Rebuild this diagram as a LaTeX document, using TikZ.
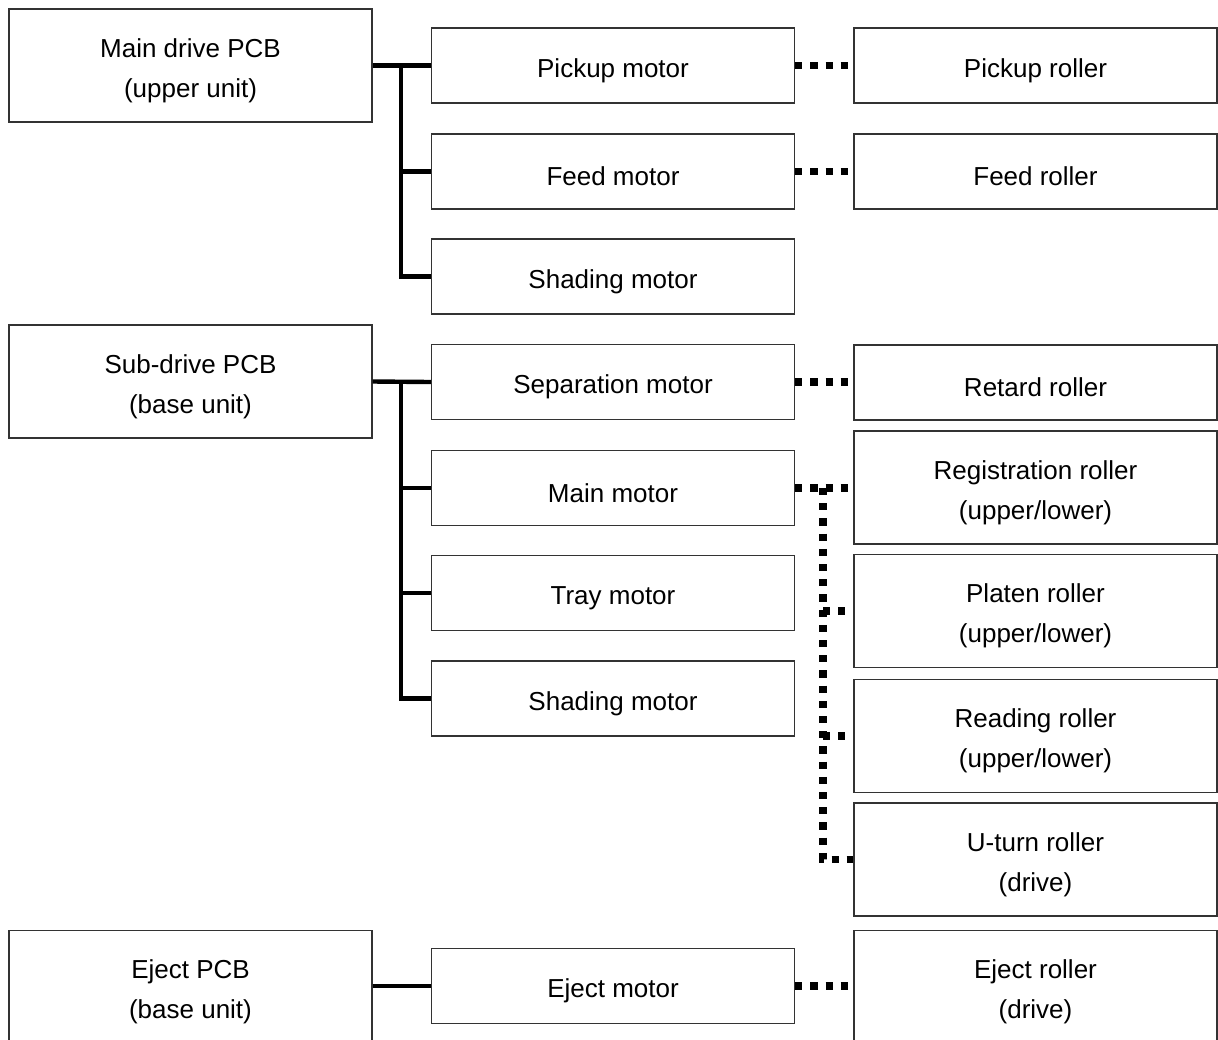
\documentclass[tikz,border=0pt]{standalone}
\usepackage{fontspec}
\setmainfont{Liberation Sans}
\usetikzlibrary{positioning}

\newcommand{\lowstrut}{\rule{0pt}{14.5pt}}
\tikzstyle{block} = [rectangle, draw=black!80, line width=0.6pt, minimum width=181.5pt, inner sep=0pt, align=center, font=\fontsize{13}{20}\selectfont]
\tikzstyle{board} = [block, minimum height=56.5pt]
\tikzstyle{motor} = [block, minimum height=37.5pt, execute at begin node=\lowstrut]
\tikzstyle{roller} = [motor]
\tikzstyle{tallroller} = [block, minimum height=56.5pt]
\tikzstyle{bus} = [line width=2.2pt]
\tikzstyle{gear} = [line width=3.6pt, dash pattern=on 3.6pt off 4pt]

\begin{document}
\begin{tikzpicture}[x=0.5pt, y=-0.5pt]
        \useasboundingbox (0,0) rectangle (1218,1039);
        % PCBs
        \node (mainpcb) at (190.5,65.5) [board] {\lowstrut Main drive PCB\\(upper unit)};
        \node (subpcb) at (190.5,381.5) [board] {\lowstrut Sub-drive PCB\\(base unit)};
        \node (ejectpcb) at (190.5,987) [board] {\lowstrut Eject PCB\\(base unit)};
        % motors
        \node (pickmot) at (613,65.5) [motor] {Pickup motor};
        \node (feedmot) at (613,171.5) [motor] {Feed motor};
        \node (shadmotA) at (613,276.5) [motor] {Shading motor};
        \node (sepmot) at (613,382) [motor] {Separation motor};
        \node (mainmot) at (613,488) [motor] {Main motor};
        \node (traymot) at (613,593) [motor] {Tray motor};
        \node (shadmotB) at (613,698.5) [motor] {Shading motor};
        \node (ejectmot) at (613,986) [motor] {Eject motor};
        % rollers
        \node (pickrol) at (1035.5,65.5) [roller] {Pickup roller};
        \node (feedrol) at (1035.5,171.5) [roller] {Feed roller};
        \node (retrol) at (1035.5,382.5) [roller] {Retard roller};
        \node (regrol) at (1035.5,487.5) [tallroller] {\lowstrut Registration roller\\(upper/lower)};
        \node (platrol) at (1035.5,611) [tallroller] {\lowstrut Platen roller\\(upper/lower)};
        \node (readrol) at (1035.5,736) [tallroller] {\lowstrut Reading roller\\(upper/lower)};
        \node (uturnrol) at (1035.5,859.5) [tallroller] {\lowstrut U-turn roller\\(drive)};
        \node (ejectrol) at (1035.5,987) [tallroller] {\lowstrut Eject roller\\(drive)};

        % electrical lines
        \coordinate (jA) at (401,65.5);
        \coordinate (jB) at (401,381.5);
        \draw[bus] (mainpcb.east) -- (pickmot.west);
        \draw[bus] (jA) |- (shadmotA.west);
        \draw[bus] (jA |- feedmot.west) -- (feedmot.west);
        \draw[bus] (subpcb.east) -- (sepmot.west);
        \draw[bus] (jB) |- (shadmotB.west);
        \draw[bus] (jB |- mainmot.west) -- (mainmot.west);
        \draw[bus] (jB |- traymot.west) -- (traymot.west);
        \draw[bus] (ejectpcb.east |- ejectmot.west) -- (ejectmot.west);

        % mechanical drive
        \draw[gear] (pickmot.east) -- (pickrol.west);
        \draw[gear] (feedmot.east) -- (feedrol.west);
        \draw[gear] (sepmot.east) -- (sepmot.east -| retrol.west);
        \draw[gear] (mainmot.east) -- (mainmot.east -| regrol.west);
        \coordinate (jC) at (823,488);
        \draw[gear] (jC) |- (uturnrol.west);
        \draw[gear] (jC |- platrol.west) -- (platrol.west);
        \draw[gear] (jC |- readrol.west) -- (readrol.west);
        \draw[gear] (ejectmot.east) -- (ejectmot.east -| ejectrol.west);
    \end{tikzpicture}
\end{document}
